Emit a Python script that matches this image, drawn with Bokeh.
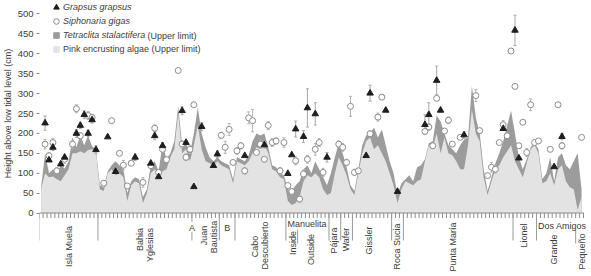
import math
from bokeh.plotting import figure
from bokeh.layouts import row
from bokeh.models import (ColumnDataSource, Range1d, FixedTicker, Legend, LegendItem, Label)
from bokeh.core.properties import value
from bokeh.embed import file_html
from bokeh.resources import INLINE

# ---- sites, grouped by locality (number of sampled sites per group) ----
group_names = ["Isla Muela", "Bahia Yglesias", "A", "B", "Cabo Descubierto", "Inside",
               "Outside", "Pájara", "Wafer", "Gissler", "Roca Sucia", "Punta María",
               "Lionel", "Grande", "Pequeño"]
group_sizes = [15, 24, 7, 4, 13, 3, 8, 3, 3, 10, 3, 28, 6, 10, 2]

# ---- upper limits (cm above low tidal level), one value per site ----
pink_algae = [60, 100, 90, 92, 85, 80, 95, 110, 150, 150, 155, 150, 158, 160, 155,
              60, 55, 100, 110, 95, 100, 90, 30, 70, 80, 75, 25, 50, 100, 110, 95, 105,
              110, 140, 160, 250, 150, 160, 130,
              170, 220, 160, 130, 125, 120, 130,
              120, 115, 110, 75,
              130, 125, 120, 130, 150, 165, 160, 170, 150, 110, 105, 90, 85,
              30, 20, 25,
              40, 80, 95, 90, 100, 90, 60, 45,
              50, 100, 140,
              120, 95, 60,
              45, 100, 150, 180, 190, 160, 170, 150, 130, 100,
              70, 25, 60,
              80, 75, 70, 80, 85, 130, 170, 165, 200, 150, 190, 150, 145, 130, 110, 110,
              170, 260, 200, 180, 90, 45, 80, 110, 120, 140, 155, 170,
              130, 110, 90, 125, 160, 170,
              150, 75, 80, 100, 70, 110, 120, 80, 65, 60,
              8, 40]
tetraclita = [65, 150, 100, 110, 100, 120, 112, 130, 190, 165, 195, 170, 195, 168, 160,
              70, 65, 105, 120, 130, 120, 110, 50, 80, 90, 85, 40, 60, 120, 130, 105, 175,
              135, 150, 180, 268, 170, 175, 150,
              200, 265, 200, 165, 140, 130, 140,
              130, 125, 120, 85,
              140, 135, 130, 145, 180, 200, 195, 200, 165, 120, 115, 100, 95,
              60, 55, 70,
              80, 110, 120, 100, 130, 110, 90, 70,
              100, 140, 175,
              150, 115, 70,
              55, 110, 170, 195, 200, 215, 190, 210, 170, 130,
              100, 45, 75,
              85, 95, 80, 115, 120, 135, 175, 180, 245, 230, 200, 170, 160, 150, 170, 185,
              190, 320, 240, 200, 110, 55, 90, 125, 150, 180, 220, 257,
              200, 140, 110, 135, 165, 175,
              160, 85, 100, 140, 80, 140, 150, 120, 110, 130,
              150, 60]

# ---- Grapsus grapsus: site index, mean height, error ----
grapsus_site = [1, 2, 3, 5, 6, 9, 10, 11, 12, 13, 14, 17, 19, 24, 28, 29, 30, 31, 36, 37,
                39, 41, 44, 45, 52, 57, 63, 64, 65, 67, 68, 70, 73, 83, 84, 88, 91, 98, 99,
                101, 102, 108, 118, 121, 122, 131, 133]
grapsus_mean = [226, 133, 165, 123, 140, 200, 220, 247, 200, 234, 159, 191, 104, 140, 125,
                194, 91, 169, 257, 177, 66, 217, 119, 148, 144, 171, 99, 146, 211, 192, 264,
                249, 140, 144, 301, 258, 54, 222, 247, 333, 258, 196, 212, 459, 138, 116, 192]
grapsus_err = [18, 0, 8, 0, 0, 10, 8, 10, 8, 8, 10, 0, 0, 8, 0, 10, 0, 8, 10, 0, 0, 10, 0,
               8, 0, 8, 0, 0, 20, 15, 48, 28, 12, 0, 20, 0, 0, 25, 30, 36, 0, 8, 0, 38, 0,
               0, 8]

# ---- Siphonaria gigas: site index, mean height, error ----
siph_site = [1, 2, 3, 4, 6, 8, 9, 10, 12, 13, 16, 18, 20, 21, 22, 23, 26, 28, 29, 30, 31,
             32, 35, 36, 37, 38, 39, 46, 47, 48, 49, 50, 51, 52, 53, 54, 55, 56, 57, 58, 59,
             60, 61, 62, 63, 64, 65, 66, 67, 68, 70, 71, 72, 76, 77, 78, 79, 80, 81, 84,
             86, 87, 98, 99, 100, 101, 103, 104, 105, 107, 111, 112, 114, 115, 116, 117,
             118, 119, 120, 121, 122, 123, 124, 125, 126, 127, 130, 132, 133, 138]
siph_mean = [173, 144, 177, 106, 135, 173, 262, 194, 245, 240, 75, 232, 150, 120, 68, 125,
             77, 119, 213, 102, 160, 134, 358, 173, 140, 160, 272, 195, 165, 210, 127, 156,
             169, 106, 239, 232, 152, 173, 135, 220, 177, 181, 106, 177, 69, 54, 131, 35,
             98, 135, 160, 177, 102, 173, 165, 127, 268, 102, 106, 199, 241, 291, 205, 216,
             169, 288, 206, 233, 173, 190, 295, 207, 94, 115, 110, 177, 222, 194, 407, 318,
             169, 228, 152, 272, 177, 181, 160, 272, 169, 190]
siph_err = [12, 8, 10, 8, 10, 10, 10, 8, 10, 8, 0, 0, 0, 12, 0, 0, 12, 0, 8, 0, 8, 0, 0, 8,
            8, 10, 0, 8, 15, 15, 0, 8, 8, 8, 15, 28, 0, 10, 0, 10, 10, 8, 8, 12, 0, 8, 10,
            8, 10, 10, 15, 10, 10, 8, 10, 8, 25, 8, 0, 8, 10, 0, 0, 8, 0, 0, 0, 8, 0, 0,
            15, 0, 0, 12, 10, 0, 10, 0, 0, 0, 0, 0, 10, 15, 0, 0, 0, 0, 8, 0]

Y_TICKS = list(range(0, 501, 50))
Y_TITLE = "Height above low tidal level (cm)"

LIGHT = "#e3e3e3"
DARK = "#9c9c9c"
TEXT = "#3c3c3c"
FONT = "Liberation Sans"
NAN = float("nan")

n_sites = sum(group_sizes)
sites = list(range(n_sites))
bounds = [0]
for s in group_sizes:
    bounds.append(bounds[-1] + s)

W, H = 591, 276
TITLE_W = 14                  # strip holding the rotated y-axis title
AXIS_W = 23                   # room for the tick labels
PLOT_W = W - TITLE_W
x0, x1 = -0.42, 140.54
y0, y1 = -159.5, 533.9
UX = (x1 - x0) / (PLOT_W - AXIS_W)   # data units per pixel, x
UY = (y1 - y0) / H                   # data units per pixel, y
ZERO_PX = 212.5                      # pixel row of the zero line


def ypx(py):
    """data y for a pixel row"""
    return (ZERO_PX - py) * UY


# ---- y-axis title strip, sharing the vertical scale of the chart ----
t = figure(width=TITLE_W, height=H, x_range=Range1d(0, TITLE_W), y_range=Range1d(y0, y1),
           output_backend="svg", toolbar_location=None, x_axis_type=None, y_axis_type=None,
           min_border=0)
t.outline_line_color = None
t.grid.visible = False
t.text(x=[TITLE_W / 2], y=[(Y_TICKS[0] + Y_TICKS[-1]) / 2], text=[Y_TITLE], angle=math.pi / 2,
       text_align="center", text_baseline="middle", text_font=value(FONT),
       text_font_size=value("9px"), text_color=TEXT)

# ---- main chart ----
p = figure(width=PLOT_W, height=H, x_range=Range1d(x0, x1), y_range=Range1d(y0, y1),
           output_backend="svg", toolbar_location=None, x_axis_type=None,
           min_border_left=AXIS_W, min_border_right=0, min_border_top=0, min_border_bottom=0)
p.outline_line_color = None
p.ygrid.visible = False

yax = p.yaxis[0]
yax.ticker = FixedTicker(ticks=Y_TICKS)
yax.axis_line_color = None
yax.major_tick_in = 0
yax.major_tick_out = 3
yax.major_tick_line_color = "#888888"
yax.minor_tick_line_color = None
yax.major_label_text_font = FONT
yax.major_label_text_font_size = "9.5px"
yax.major_label_text_color = TEXT
yax.major_label_standoff = 3

# zonation areas: Tetraclita beneath, pink algae drawn over it
area_src = ColumnDataSource(dict(x=sites, pink=pink_algae, tet=tetraclita))
p.varea(x="x", y1=0, y2="tet", source=area_src, fill_color=DARK)
p.varea(x="x", y1=0, y2="pink", source=area_src, fill_color=LIGHT)

# category axis drawn along the zero line
edge = [b - 0.5 for b in range(n_sites + 1)]
p.segment(x0=[-0.5], y0=[0], x1=[n_sites - 0.4], y1=[0], line_color="#8a8a8a", line_width=1)
p.segment(x0=edge, y0=[0] * len(edge), x1=edge, y1=[ypx(217.5)] * len(edge),
          line_color="#8a8a8a", line_width=1)

# group separators
full_sep = [bounds[i] for i in (0, 1, 3, 4, 5, 7, 8, 9, 10, 11, 12, 13)]
p.segment(x0=[b - 0.5 for b in full_sep], y0=[0] * len(full_sep),
          x1=[b - 0.5 for b in full_sep], y1=[ypx(240)] * len(full_sep),
          line_color="#9a9a9a", line_width=1)
a_edge = bounds[2] - 0.5
p.segment(x0=[a_edge, a_edge], y0=[0, ypx(231.5)], x1=[a_edge, a_edge],
          y1=[ypx(221.5), ypx(240)], line_color="#9a9a9a", line_width=1)
short_sep = [bounds[6], bounds[14]]
p.segment(x0=[b - 0.5 for b in short_sep], y0=[ypx(229)] * 2,
          x1=[b - 0.5 for b in short_sep], y1=[ypx(243)] * 2,
          line_color="#9a9a9a", line_width=1)


def center(g):
    return (bounds[g] + bounds[g + 1]) / 2 - 0.5


# rotated locality names: (text, group, pixel shift across, pixel row of centre)
rot = [("Isla Muela", 0, 0, 246), ("Bahia", 1, -5, 239), ("Yglesias", 1, 5, 244.5),
       ("Juan", 2, -2, 235), ("Bautista", 2, 8, 236.5), ("Cabo", 4, -5, 246),
       ("Descubierto", 4, 5, 245), ("Inside", 5, 1, 242.5), ("Outside", 6, -2, 249),
       ("Pájara", 7, -1, 240), ("Wafer", 8, -1, 239), ("Gissler", 9, -3, 240),
       ("Roca Sucia", 10, -1, 246), ("Punta María", 11, -5, 246.5), ("Lionel", 12, -1, 235),
       ("Grande", 13, -2, 249), ("Pequeño", 14, 2, 251)]
rot_src = ColumnDataSource(dict(
    x=[center(g) + dx * UX for _, g, dx, _ in rot],
    y=[ypx(py) for *_, py in rot],
    t=[t for t, *_ in rot]))
p.text(x="x", y="y", text="t", source=rot_src, angle=math.pi / 2,
       text_font=value(FONT), text_font_size=value("9px"), text_color=TEXT,
       text_align="center", text_baseline="middle")

# horizontal sub-headings
hor_src = ColumnDataSource(dict(
    x=[bounds[2] - 0.5, center(3), bounds[5] - 0.5 + 1.5 * UX, bounds[13] - 0.5 + 1.5 * UX],
    y=[ypx(227), ypx(227), ypx(223), ypx(225)],
    t=["A", "B", "Manuelita", "Dos Amigos"],
    a=["center", "center", "left", "left"]))
p.text(x="x", y="y", text="t", source=hor_src, text_align="a",
       text_font=value(FONT), text_font_size=value("9px"), text_color=TEXT,
       text_baseline="middle")


# error bars
def bars(site, mean, err, color):
    xs = [s for s, e in zip(site, err) if e > 0]
    lo = [m - e for m, e in zip(mean, err) if e > 0]
    hi = [m + e for m, e in zip(mean, err) if e > 0]
    p.segment(x0=xs, y0=lo, x1=xs, y1=hi, line_color=color, line_width=1)
    cw = 1.5 * UX
    p.segment(x0=[x - cw for x in xs] * 2, y0=lo + hi, x1=[x + cw for x in xs] * 2,
              y1=lo + hi, line_color=color, line_width=1)


bars(siph_site, siph_mean, siph_err, "#b4b4b4")
bars(grapsus_site, grapsus_mean, grapsus_err, "#a8a8a8")

siph = p.scatter(x=siph_site, y=siph_mean, marker="circle", size=6, fill_color="white",
                 line_color="#8c8c8c", line_width=1)
grap = p.scatter(x=grapsus_site, y=grapsus_mean, marker="triangle", size=6.5,
                 fill_color="#1e1e1e", line_color="#1e1e1e")

# legend swatches (no position, so nothing is drawn on the chart itself)
tet_key = p.scatter(x=[NAN], y=[NAN], marker="square", fill_color=DARK, line_color=DARK)
pink_key = p.scatter(x=[NAN], y=[NAN], marker="square", fill_color=LIGHT, line_color=LIGHT)

common = dict(glyph_width=14, glyph_height=14, label_height=14, spacing=0, padding=0,
              margin=0, label_standoff=0, border_line_color=None,
              background_fill_alpha=0, label_text_font=FONT, label_text_font_size="9px",
              label_text_color=TEXT)
leg1 = Legend(items=[LegendItem(label="Grapsus grapsus", renderers=[grap], index=0),
                     LegendItem(label="Siphonaria gigas", renderers=[siph], index=0),
                     LegendItem(label="Tetraclita stalactifera", renderers=[tet_key],
                                index=0)],
              location=(10, H - 42), label_text_font_style="italic", **common)
leg2 = Legend(items=[LegendItem(label="Pink encrusting algae (Upper limit)",
                                renderers=[pink_key], index=0)],
              location=(10, H - 56), label_text_font_style="normal", **common)
p.add_layout(leg1)
p.add_layout(leg2)
p.add_layout(Label(x=108, y=H - 35, x_units="screen", y_units="screen",
                   text="(Upper limit)", text_font=FONT, text_font_size="9px",
                   text_color=TEXT, text_baseline="middle"))

layout = row(t, p, spacing=0)
open("out.html", "w").write(file_html(layout, INLINE))
